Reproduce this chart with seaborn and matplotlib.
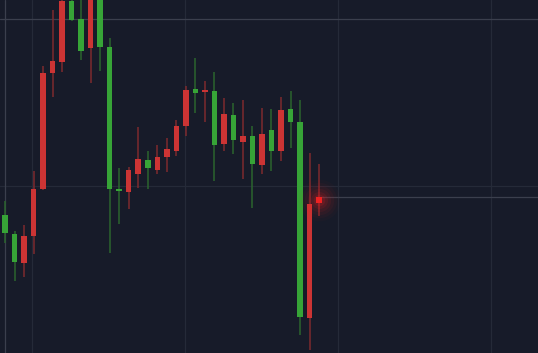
import numpy as np
import pandas as pd
import matplotlib
matplotlib.use("Agg")
import matplotlib.pyplot as plt
import seaborn as sns

# OHLC values (red = up, green = down)
opens = [138, 119, 90, 117, 164, 280, 291, 352, 334, 305, 356, 306, 164, 161, 179, 193, 183,
         196, 202, 227, 264, 261, 262, 209, 238, 211, 217, 188, 223, 202, 244, 231, 35, 150]
highs = [152, 122, 128, 182, 287, 343, 358, 356, 363, 362, 365, 315, 185, 186, 226, 202, 208,
         215, 233, 267, 295, 272, 281, 255, 250, 253, 227, 245, 244, 256, 262, 253, 200, 189]
lows = [110, 72, 76, 99, 163, 256, 281, 332, 293, 270, 282, 100, 129, 144, 165, 164, 179,
        181, 197, 217, 240, 231, 172, 202, 199, 174, 145, 179, 182, 192, 205, 18, 3, 137]
closes = [120, 91, 117, 164, 280, 292, 352, 333, 302, 355, 306, 164, 162, 183, 194, 185, 196,
          204, 227, 263, 260, 262, 208, 239, 213, 217, 189, 219, 202, 243, 231, 36, 149, 156]

grid_x = [2.85, 18.9, 35.0, 51.1]
grid_y = [167]
cross_x = 0.05
cross_y = 334

df = pd.DataFrame({"open": opens, "high": highs, "low": lows, "close": closes})
df["idx"] = np.arange(len(df))
df["up"] = df["close"] >= df["open"]

bg = "#171b29"
up_body, up_wick = "#cc3434", "#7e2a2e"
dn_body, dn_wick = "#37a437", "#2b652e"

sns.set_theme(style="dark", rc={"axes.facecolor": bg, "figure.facecolor": bg})

fig, ax = plt.subplots(figsize=(5.38, 3.53), dpi=100)
fig.subplots_adjust(left=0, right=1, top=1, bottom=0)

# grid + crosshair
for gx in grid_x:
    ax.axvline(gx, color="#252a38", lw=0.9, zorder=0)
for gy in grid_y:
    ax.axhline(gy, color="#252a38", lw=0.9, zorder=0)
ax.axvline(cross_x, color="#3b3f4d", lw=0.9, zorder=0)
ax.axhline(cross_y, color="#3b3f4d", lw=0.9, zorder=0)

# wicks
for up, wc in [(True, up_wick), (False, dn_wick)]:
    d = df[df["up"] == up]
    ax.vlines(d["idx"], d["low"], d["high"], color=wc, lw=1.1, zorder=1)

# bodies
body_h = (df["close"] - df["open"]).abs().clip(lower=1.8)
body_b = df[["open", "close"]].min(axis=1)
colors = [up_body if u else dn_body for u in df["up"]]
ax.bar(df["idx"], body_h, bottom=body_b, width=0.58, color=colors, zorder=2, linewidth=0)

# last price line and glow
last = df.iloc[-1]
ax.plot([last["idx"] + 0.3, 60], [last["close"] + 0.5] * 2, color="#3b3f4d", lw=0.9, zorder=0)
for s, a in [(900, 0.025), (650, 0.035), (450, 0.05), (280, 0.07), (150, 0.1), (70, 0.14)]:
    ax.scatter([last["idx"]], [(last["open"] + last["close"]) / 2], s=s, color="#ff2020",
               alpha=a, linewidths=0, zorder=3)
ax.bar([last["idx"]], [last["close"] - last["open"]], bottom=[last["open"]], width=0.58,
       color="#ee2222", zorder=4, linewidth=0)

ax.set_xlim(-0.525, 56.0)
ax.set_ylim(0, 353)
ax.set_xticks([])
ax.set_yticks([])
for sp in ax.spines.values():
    sp.set_visible(False)

fig.savefig("out.png", dpi=100, facecolor=bg)
